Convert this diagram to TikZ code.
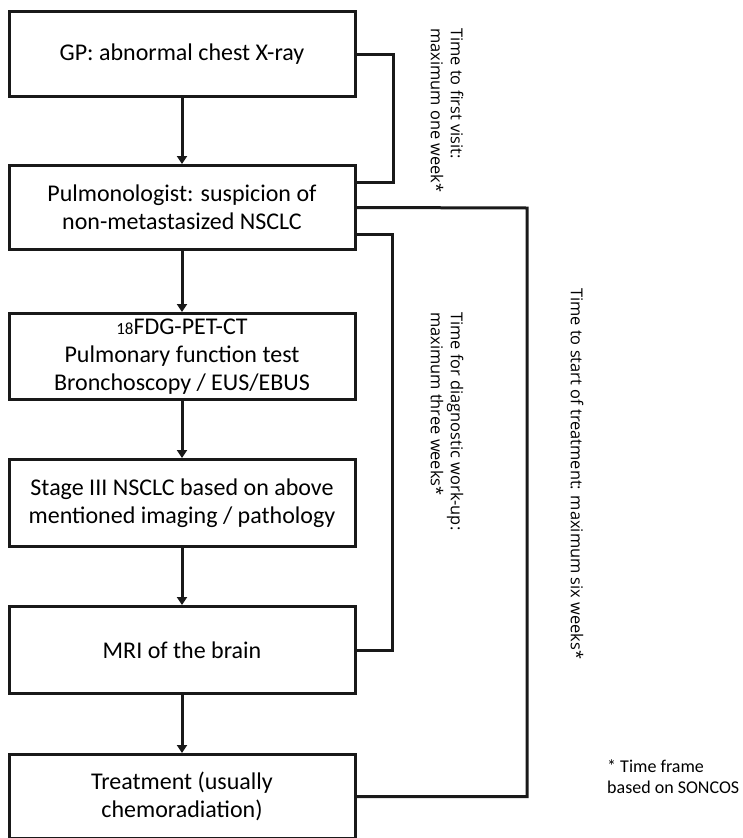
\documentclass[tikz,border=0pt]{standalone}
\usepackage{fontspec}
\setmainfont{Carlito}
\newfontfamily\sidefont{Open Sans}
\usetikzlibrary{arrows.meta}
\begin{document}
\begin{tikzpicture}[x=1pt,y=-1pt,
  flowbox/.style={draw=black!90, line width=3pt, minimum width=346pt,
    align=center, anchor=north, inner sep=2pt,
    font=\fontsize{24}{28}\selectfont},
  flowarrow/.style={draw=black!90, line width=3pt,
    -{Triangle[width=10pt,length=8pt]}},
  bracket/.style={draw=black!90, line width=3pt},
  timenote/.style={rotate=-90, anchor=west, align=left, inner sep=0pt,
    font=\sidefont\fontsize{16.4}{20}\selectfont}]
\useasboundingbox (0,0) rectangle (742,838);

% main pathway
\node[flowbox, minimum height=85pt] (b1) at (182,10) {GP: abnormal chest X-ray};
\node[flowbox, minimum height=84pt] (b2) at (182,164) {Pulmonologist: suspicion of\\non-metastasized NSCLC};
\node[flowbox, minimum height=86pt] (b3) at (182,312) {{\fontsize{17}{28}\selectfont 18}FDG-PET-CT\\Pulmonary function test\\Bronchoscopy / EUS/EBUS};
\node[flowbox, minimum height=87pt] (b4) at (182,458) {Stage III NSCLC based on above\\mentioned imaging / pathology};
\node[flowbox, minimum height=87pt] (b5) at (182,605) {MRI of the brain};
\node[flowbox, minimum height=84pt] (b6) at (182,753) {Treatment (usually\\chemoradiation)};

\draw[flowarrow] (b1) -- (b2);
\draw[flowarrow] (b2) -- (b3);
\draw[flowarrow] (b3) -- (b4);
\draw[flowarrow] (b4) -- (b5);
\draw[flowarrow] (b5) -- (b6);

% time-frame brackets
\coordinate (k1) at (393,182);
\coordinate (k2top) at (392,234);
\coordinate (k3) at (527,208);
\draw[bracket] (b1.east) -| (k1) -- (k1 -| b2.east);
\draw[bracket] (k2top -| b2.east) -- (k2top) |- (b5.east);
\draw[bracket] (b2.east) -- (k3) |- (b6.east);

\node[timenote] (t1) at (447,28) {Time to first visit:\\maximum one week*};
\node[timenote] (t2) at (447,312) {Time for diagnostic work-up:\\maximum three weeks*};
\node[timenote] (t3) at (577,288) {Time to start of treatment: maximum six weeks*};

\node[anchor=north west, align=left, inner sep=0pt,
  font=\fontsize{18}{21}\selectfont] (fn) at (607,760) {* Time frame\\based on SONCOS};
\end{tikzpicture}
\end{document}
